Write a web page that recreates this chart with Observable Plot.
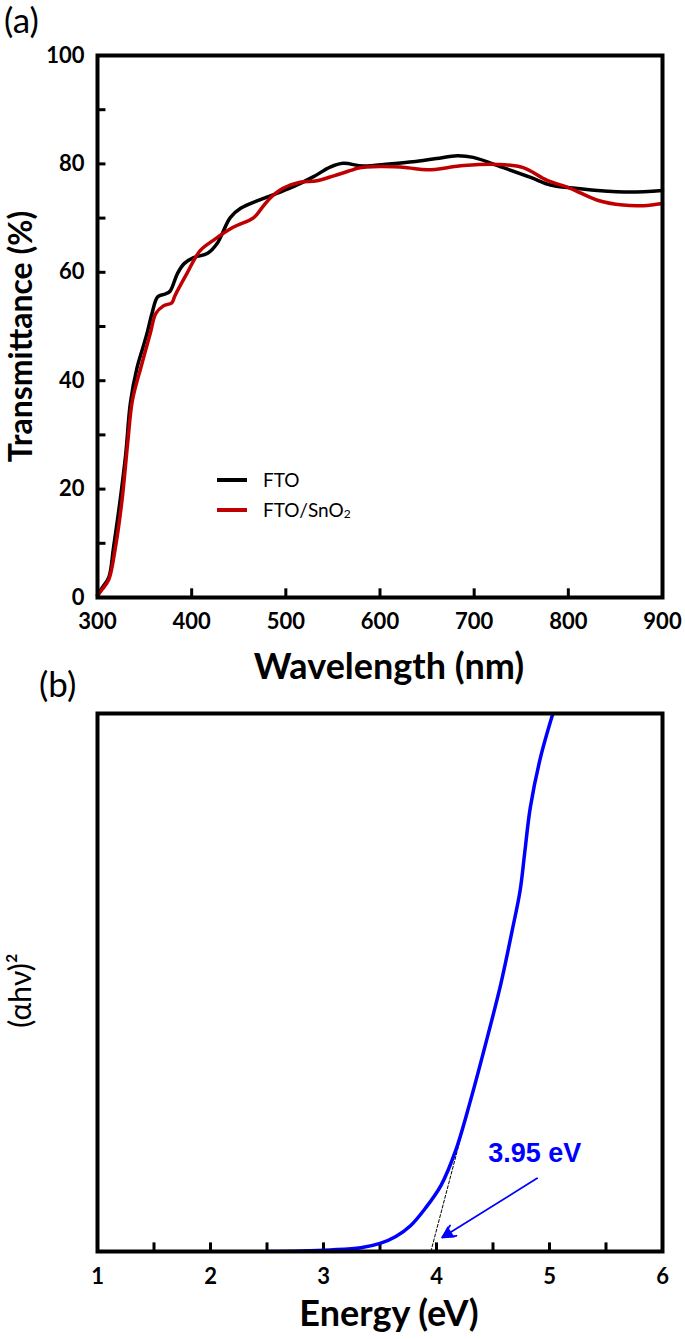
<!DOCTYPE html>
<html><head><meta charset="utf-8">
<script src="https://cdn.jsdelivr.net/npm/d3@7"></script>
<script src="https://cdn.jsdelivr.net/npm/@observablehq/plot@0.6"></script>
<style>
body{margin:0;background:#fff;}
#wrap{position:relative;width:685px;height:1339px;font-family:Lato, "Open Sans", sans-serif;background:#fff;}
.pl{position:absolute;left:0;}
.leg{position:absolute;font-size:19px;line-height:1;display:flex;align-items:center;z-index:5;}
.leg span.ln{display:inline-block;width:30px;height:0;border-top:4px solid;margin-right:16px;}
</style>
</head><body>
<div id="wrap">
  <div id="pa" class="pl" style="top:0;"></div>
  <div id="pb" class="pl" style="top:700px;"></div>
  <div style="position:absolute;left:4px;top:1px;font-size:35px;line-height:36px;font-weight:normal;z-index:5;">(a)</div>
  <div style="position:absolute;left:39px;top:665px;font-size:35px;line-height:36px;font-weight:normal;z-index:5;">(b)</div>
  <div class="leg" style="left:217px;top:470px;"><span class="ln" style="border-color:#000"></span>FTO</div>
  <div class="leg" style="left:217px;top:500px;"><span class="ln" style="border-color:#c00000"></span>FTO/SnO<sub style="font-size:12px;position:relative;top:4px;vertical-align:baseline;">2</sub></div>
</div>
<script>
// Panel (a): transmittance
const ftoWl = [300,305,312,317,324,330,335,342,348,353,358,364,372,377,385,392,402,417,427,441,452,473,491,508,529,547,561,582,610,635,660,682,699,731,760,781,802,831,866,900];
const ftoT  = [0.5,1.8,3.7,9.2,17.9,26.5,36,42.4,46,49,52.5,55.5,56,56.5,59.8,61.6,62.7,63.5,65.3,70.1,71.8,73.4,74.6,75.8,77.6,79.4,80.1,79.6,80,80.4,81,81.5,81.2,79.3,77.5,76.1,75.6,75.1,74.8,75.1];
const snoWl = [300,305,312,319,326,332,337,346,356,362,370,379,382,395,409,423,444,466,475,484,497,515,533,551,569,576,600,629,650,689,725,752,777,802,831,858,880,900];
const snoT  = [0.3,1.5,3.3,9.2,17.9,28.4,36.3,42.4,48.7,52.4,53.8,54.4,55.6,59.8,64,65.9,68.3,70.1,72,73.8,75.5,76.6,76.9,77.8,78.8,79.2,79.5,79.3,78.9,79.7,79.9,79.3,77,75.5,73.3,72.4,72.3,72.7];
const seriesNames = ["FTO","FTO/SnO2"];
const seriesColors = ["#000000","#c00000"];
const xTicksA = [300,400,500,600,700,800,900];
const yTicksA = [0,20,40,60,80,100];
const xMinorA = [400,500,600,700,800];
const yMinorA = [10,20,30,40,50,60,70,80,90];

// Panel (b): Tauc plot
const energy = [2.5,2.8,3.06,3.33,3.5,3.64,3.77,3.9,4.04,4.17,4.3,4.42,4.57,4.67,4.74,4.78,4.83,4.92,5.03];
const tauc   = [0,0.1,0.3,0.7,1.5,2.8,4.8,8,12.3,18.8,28,37.4,49.8,59.7,67.1,74,82.5,91.8,100];
const tangentE = [3.95,4.55];
const tangentV = [0,48];
const xTicksB = [1,2,3,4,5,6];
const xMinorB = [1.5,2,2.5,3,3.5,4,4.5,5,5.5];
const gapLabel = "3.95 eV";
const arrowFrom = [4.89,13.6];
const arrowTo = [4.05,2.6];
const labelAt = [4.87,18.2];

const ftoData = ftoWl.map((w,i)=>({w, t:ftoT[i], s:seriesNames[0]}));
const snoData = snoWl.map((w,i)=>({w, t:snoT[i], s:seriesNames[1]}));
const font = "Lato, 'Open Sans', sans-serif";

const pa = Plot.plot({
  width:685, height:700,
  marginLeft:97, marginRight:23, marginTop:55, marginBottom:103,
  style:{fontFamily:font, fontWeight:"bold", background:"transparent", overflow:"visible"},
  x:{domain:[300,900], ticks:xTicksA, label:null},
  y:{domain:[0,100], ticks:yTicksA, label:null},
  marks:[
    Plot.axisX({ticks:xTicksA, tickSize:0, tickPadding:16, fontSize:22, fontWeight:"bold", label:null, tickFormat:d=>String(d)}),
    Plot.axisY({ticks:yTicksA, tickSize:0, tickPadding:13, fontSize:22, fontWeight:"bold", label:null, tickFormat:d=>String(d)}),
    Plot.ruleX(xMinorA, {x:d=>d, y1:0, y2:1.6, stroke:"#000", strokeWidth:3}),
    Plot.ruleY(yMinorA, {y:d=>d, x1:300, x2:309, stroke:"#000", strokeWidth:3}),
    Plot.line(ftoData, {x:"w", y:"t", stroke:seriesColors[0], strokeWidth:3.5, curve:"catmull-rom"}),
    Plot.line(snoData, {x:"w", y:"t", stroke:seriesColors[1], strokeWidth:3.5, curve:"catmull-rom"}),
    Plot.frame({stroke:"#000", strokeWidth:4}),
    Plot.text(["Wavelength (nm)"], {frameAnchor:"bottom", textAnchor:"middle", lineAnchor:"middle", dx:9, dy:70, fontSize:36, fontWeight:"bold", fill:"#000"}),
    Plot.text(["Transmittance (%)"], {frameAnchor:"left", textAnchor:"middle", lineAnchor:"middle", dx:-76, dy:10, rotate:-90, fontSize:32, fontWeight:"bold", fill:"#000"})
  ]
});
document.getElementById("pa").appendChild(pa);

// arrow head placed slightly back from the tip along the arrow direction
const headPos = [arrowTo[0] + (arrowFrom[0]-arrowTo[0])*0.06, arrowTo[1] + (arrowFrom[1]-arrowTo[1])*0.06];

const pb = Plot.plot({
  width:685, height:639,
  marginLeft:97, marginRight:23, marginTop:13, marginBottom:88,
  style:{fontFamily:font, fontWeight:"bold", background:"transparent", overflow:"visible"},
  x:{domain:[1,6], label:null},
  y:{domain:[0,100], label:null, axis:null},
  marks:[
    Plot.axisX({ticks:xTicksB, tickSize:0, tickPadding:17, fontSize:22, fontWeight:"bold", label:null, tickFormat:d=>String(d)}),
    Plot.ruleX(xMinorB, {x:d=>d, y1:0, y2:1.6, stroke:"#000", strokeWidth:3}),
    Plot.line(tangentE.map((e,i)=>({e, v:tangentV[i]})), {x:"e", y:"v", stroke:"#000", strokeWidth:1, strokeDasharray:"3,2"}),
    Plot.line(energy.map((e,i)=>({e, v:tauc[i]})), {x:"e", y:"v", stroke:"#0000ff", strokeWidth:3.5, curve:"catmull-rom", clip:true}),
    Plot.arrow([{x1:arrowFrom[0], y1:arrowFrom[1], x2:arrowTo[0], y2:arrowTo[1]}], {x1:"x1", y1:"y1", x2:"x2", y2:"y2", stroke:"#0000ff", strokeWidth:1.8, headLength:12, headAngle:50}),
    Plot.dot([headPos], {x:d=>d[0], y:d=>d[1], symbol:"triangle", r:5, fill:"#0000ff", stroke:"none", rotate:238}),
    Plot.text([gapLabel], {x:labelAt[0], y:labelAt[1], text:d=>d, fill:"#0000ff", fontSize:27, fontWeight:"bold", fontFamily:"'Liberation Sans', Arial, sans-serif"}),
    Plot.frame({stroke:"#000", strokeWidth:4}),
    Plot.text(["Energy (eV)"], {frameAnchor:"bottom", textAnchor:"middle", lineAnchor:"middle", dx:9, dy:63, fontSize:36, fontWeight:"bold", fill:"#000"}),
    Plot.text(["(αhν)²"], {frameAnchor:"left", textAnchor:"middle", lineAnchor:"middle", dx:-76, dy:8, rotate:-90, fontSize:30, fontWeight:"normal", fill:"#000"})
  ]
});
document.getElementById("pb").appendChild(pb);
</script>
</body></html>
